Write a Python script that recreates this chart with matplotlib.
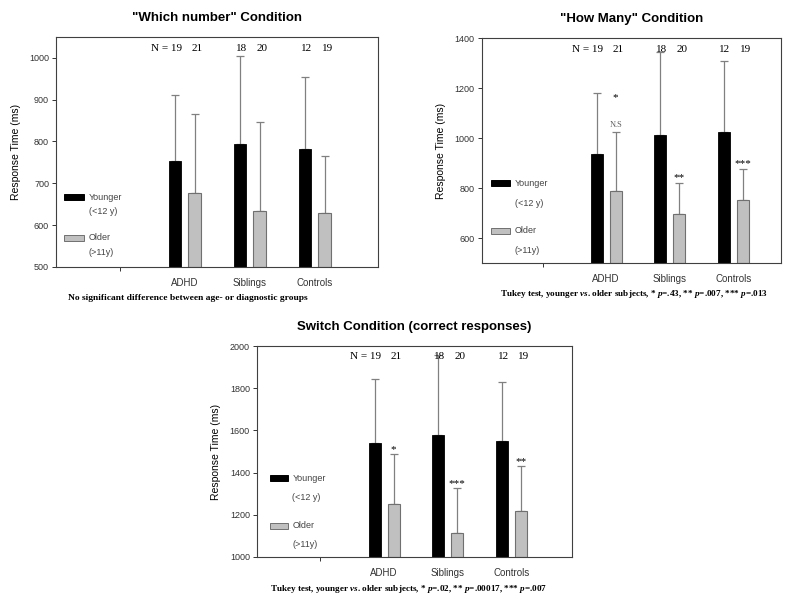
import matplotlib
matplotlib.use('Agg')
import matplotlib.pyplot as plt
import numpy as np
from matplotlib.patches import Rectangle

groups = ['ADHD', 'Siblings', 'Controls']
n_young = [19, 18, 12]
n_old = [21, 20, 19]

# "Which number" condition
which_young = [753, 795, 782]
which_young_err = [910, 1004, 955]
which_old = [676, 633, 630]
which_old_err = [865, 846, 765]

# "How many" condition
many_young = [937, 1015, 1024]
many_young_err = [1183, 1345, 1311]
many_old = [791, 696, 752]
many_old_err = [1027, 823, 879]
many_marks = ['*', '**', '***']

# Switch condition
switch_young = [1540, 1580, 1550]
switch_young_err = [1846, 1957, 1831]
switch_old = [1249, 1113, 1219]
switch_old_err = [1487, 1326, 1430]
switch_marks = ['*', '***', '**']

SANS = 'Liberation Sans'
SERIF = 'Liberation Serif'
plt.rcParams['font.family'] = SANS
plt.rcParams['mathtext.fontset'] = 'custom'
plt.rcParams['mathtext.it'] = 'Liberation Serif:italic:bold'
plt.rcParams['mathtext.rm'] = 'Liberation Serif:bold'


def draw_panel(ax, title, young, young_err, old, old_err, ylim, yticks, xlim, leg,
               marks=None, ns=False):
	x = np.arange(1, len(groups) + 1)
	xy = x - 0.15
	xo = x + 0.15
	w = 0.19
	base = ylim[0]
	ax.bar(xy, np.array(young) - base, w, bottom=base, color='black', edgecolor='black',
		   linewidth=0.6, zorder=2)
	ax.bar(xo, np.array(old) - base, w, bottom=base, color='#c0c0c0', edgecolor='#707070',
		   linewidth=0.8, zorder=2)
	ax.errorbar(xy, young, yerr=[np.zeros(3), np.array(young_err) - np.array(young)], fmt='none',
				ecolor='#808080', elinewidth=0.9, capsize=3, capthick=0.9, zorder=1)
	ax.errorbar(xo, old, yerr=[np.zeros(3), np.array(old_err) - np.array(old)], fmt='none',
				ecolor='#808080', elinewidth=0.9, capsize=3, capthick=0.9, zorder=1)

	ax.set_xlim(*xlim)
	ax.set_ylim(*ylim)
	ax.set_yticks(yticks)
	ax.set_xticks([0, 1, 2, 3])
	ax.set_xticklabels([''] + groups)
	for t in ax.xaxis.get_major_ticks()[1:]:
		t.tick1line.set_visible(False)
	ax.tick_params(axis='both', labelsize=6.5, colors='#333333', length=3, width=0.7, pad=2)
	ax.tick_params(axis='x', pad=5, labelsize=7)
	for s in ax.spines.values():
		s.set_color('#404040')
		s.set_linewidth(0.8)
	ax.set_ylabel('Response Time (ms)', fontsize=7.5, labelpad=6)
	ax.set_title(title, fontsize=9.5, fontweight='bold', pad=11.5)

	# N labels
	tr = ax.get_xaxis_transform()
	ax.text(xy[0] + 0.1, 0.95, 'N = ' + str(n_young[0]), transform=tr, ha='right', va='center',
			fontsize=8, family=SERIF)
	for i in range(3):
		if i > 0:
			ax.text(xy[i] + 0.02, 0.95, str(n_young[i]), transform=tr, ha='center', va='center',
					fontsize=8, family=SERIF)
		ax.text(xo[i] + 0.04, 0.95, str(n_old[i]), transform=tr, ha='center', va='center',
				fontsize=8, family=SERIF)

	# significance marks
	if marks is not None:
		for i in range(3):
			dy = 0 if not (ns and i == 0) else 21
			ax.annotate(marks[i], (xo[i], old_err[i]), xytext=(0, dy), textcoords='offset points',
						ha='center', va='bottom', fontsize=8, family=SERIF)
		if ns:
			ax.annotate('N.S', (xo[0], old_err[0]), xytext=(0, 2), textcoords='offset points',
						ha='center', va='bottom', fontsize=6, family=SERIF, color='#606060')

	# hand-drawn legend box inside the axes
	lx0, lx1, y1, y2, y3, y4 = leg
	for yy, fc, ec in ((y1, 'black', 'black'), (y3, '#c0c0c0', '#707070')):
		ax.add_patch(Rectangle((lx0, yy - 0.014), lx1 - lx0, 0.028, transform=ax.transAxes,
							   facecolor=fc, edgecolor=ec, linewidth=0.7, clip_on=False))
	tx = lx1 + 0.015
	kw = dict(transform=ax.transAxes, va='center', ha='left', fontsize=6.5, color='#444444')
	ax.text(tx, y1, 'Younger', **kw)
	ax.text(tx, y2, '(<12 y)', **kw)
	ax.text(tx, y3, 'Older', **kw)
	ax.text(tx, y4, '(>11y)', **kw)

	return ax


fig = plt.figure(figsize=(8, 6.04), dpi=100)

ax1 = fig.add_axes([0.070, 0.558, 0.4025, 0.381])
draw_panel(ax1, '"Which number" Condition', which_young, which_young_err, which_old, which_old_err,
		   (500, 1050), [500, 600, 700, 800, 900, 1000], (-0.98, 3.97),
		   (0.025, 0.087, 0.304, 0.239, 0.126, 0.061))

ax2 = fig.add_axes([0.602, 0.564, 0.374, 0.3725])
draw_panel(ax2, '"How Many" Condition', many_young, many_young_err, many_old, many_old_err,
		   (500, 1400), [600, 800, 1000, 1200, 1400], (-0.96, 3.75),
		   (0.031, 0.095, 0.357, 0.268, 0.144, 0.059), marks=many_marks, ns=True)

ax3 = fig.add_axes([0.321, 0.078, 0.394, 0.349])
draw_panel(ax3, 'Switch Condition (correct responses)', switch_young, switch_young_err, switch_old,
		   switch_old_err, (1000, 2000), [1000, 1200, 1400, 1600, 1800, 2000], (-1.0, 3.95),
		   (0.041, 0.098, 0.374, 0.280, 0.147, 0.057), marks=switch_marks)

cap_kw = dict(fontsize=6.6, family=SERIF, fontweight='bold', va='center')
fig.text(68 / 800, 1 - 298 / 604, 'No significant difference between age- or diagnostic groups',
		 ha='left', fontsize=6.8, family=SERIF, fontweight='bold', va='center')
fig.text(634 / 800, 1 - 294 / 604,
		 r'Tukey test, younger $\mathit{vs}$. older subjects, * $\mathit{p}$=.43, ** $\mathit{p}$=.007, *** $\mathit{p}$=.013',
		 ha='center', **cap_kw)
fig.text(409 / 800, 1 - 589 / 604,
		 r'Tukey test, younger $\mathit{vs}$. older subjects, * $\mathit{p}$=.02, ** $\mathit{p}$=.00017, *** $\mathit{p}$=.007',
		 ha='center', **cap_kw)

fig.savefig('out.png', dpi=100)
